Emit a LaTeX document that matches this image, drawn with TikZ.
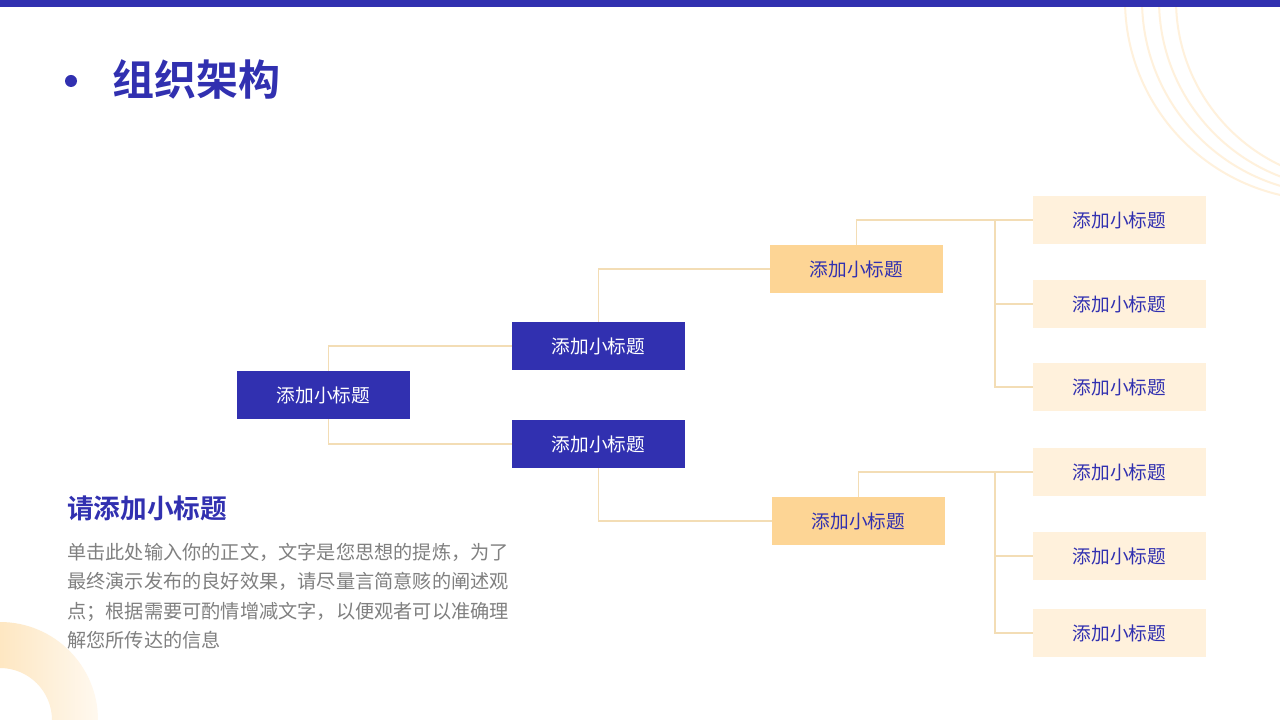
\documentclass[tikz,border=0pt]{standalone}
\usepackage{fontspec}
\setmainfont{Noto Sans CJK SC}
\newfontfamily\cjk{Noto Sans CJK SC}
\newfontfamily\cjkb{Noto Sans CJK SC Bold}
\definecolor{mblue}{HTML}{3130B0}
\definecolor{morange}{HTML}{FDD595}
\definecolor{mlight}{HTML}{FFF1DC}
\definecolor{mline}{HTML}{F3DDB5}
\definecolor{mgray}{HTML}{808080}
\tikzset{
 boxbase/.style={minimum width=130pt,minimum height=36pt,inner sep=0pt,text depth=0pt,font=\cjk\fontsize{14}{16}\selectfont},
 bluebox/.style={boxbase,fill=mblue,text=white},
 orbox/.style={boxbase,fill=morange,text=mblue},
 ltbox/.style={boxbase,fill=mlight,text=mblue},
 conn/.style={draw=mline,line width=0.8pt}
}
\begin{document}
\begin{tikzpicture}[x=0.75pt,y=-0.75pt]
\useasboundingbox (0,0) rectangle (1280,720);
\fill[white] (0,0) rectangle (1280,720);
% decorations
\begin{scope}
\clip (0,0) rectangle (1280,720);
\foreach \s/\r in {1125/200,1142/194,1159/189,1176/183} \draw[mlight,line width=1.5pt] (\s+\r,0) circle[radius=\r*0.75pt];
\shade[left color=morange,right color=morange!15,even odd rule] (0,720) circle[radius=98*0.75pt] (0,720) circle[radius=52*0.75pt];
\end{scope}
\fill[mblue] (0,0) rectangle (1280,7);
% title
\fill[mblue] (71,81) circle[radius=4.5pt];
\node[anchor=west,text=mblue,font=\cjkb\fontsize{31.5}{34}\selectfont,inner sep=0pt] (title) at (112,79) {组织架构};
% nodes
\node[bluebox] (r) at (323.5,395) {添加小标题};
\node[bluebox] (a) at (598.5,346) {添加小标题};
\node[bluebox] (b) at (598.5,444) {添加小标题};
\node[orbox] (a3) at (856.5,269) {添加小标题};
\node[orbox] (b3) at (858.5,521) {添加小标题};
\node[ltbox] (l1) at (1119.5,220) {添加小标题};
\node[ltbox] (l2) at (1119.5,304) {添加小标题};
\node[ltbox] (l3) at (1119.5,387) {添加小标题};
\node[ltbox] (l4) at (1119.5,472) {添加小标题};
\node[ltbox] (l5) at (1119.5,556) {添加小标题};
\node[ltbox] (l6) at (1119.5,633) {添加小标题};
\coordinate (ja) at (995,220);
\coordinate (jb) at (995,472);
% connectors
\draw[conn] ([xshift=5*0.75pt]r.north) |- (a.west);
\draw[conn] ([xshift=5*0.75pt]r.south) |- (b.west);
\draw[conn] (a.north) |- (a3.west);
\draw[conn] (b.south) |- (b3.west);
\draw[conn] (a3.north) |- (ja) -- (l1.west);
\draw[conn] (ja) |- (l2.west);
\draw[conn] (ja) |- (l3.west);
\draw[conn] (b3.north) |- (jb) -- (l4.west);
\draw[conn] (jb) |- (l5.west);
\draw[conn] (jb) |- (l6.west);
% text block
\node[anchor=west,text=mblue,font=\cjkb\fontsize{20}{23}\selectfont,inner sep=0pt] (sub) at (67,508) {请添加小标题};
\node[anchor=north west,text=mgray,font=\cjk\fontsize{14.4}{22}\selectfont,inner sep=0pt,align=left] (body) at (67,543) {单击此处输入你的正文，文字是您思想的提炼，为了\\最终演示发布的良好效果，请尽量言简意赅的阐述观\\点；根据需要可酌情增减文字，以便观者可以准确理\\解您所传达的信息};
\end{tikzpicture}
\end{document}
